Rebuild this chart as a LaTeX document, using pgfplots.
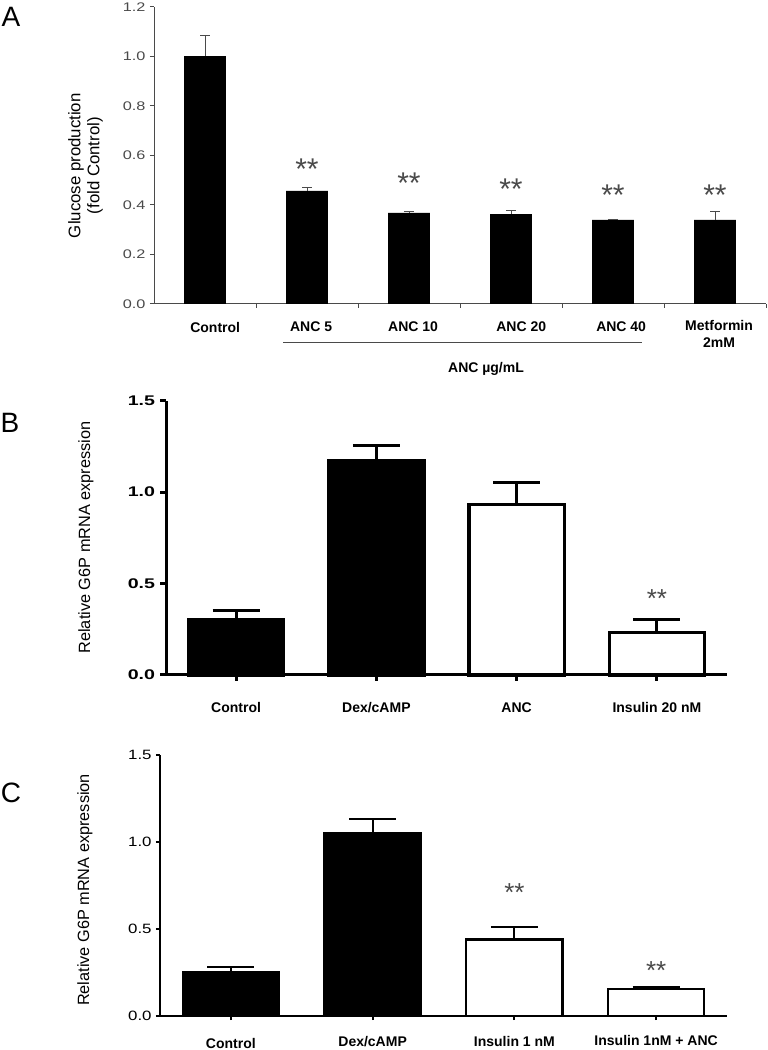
\documentclass[border=0pt]{standalone}
\usepackage{fontspec}
\setmainfont{Liberation Sans}
\usepackage{pgfplots}
\pgfplotsset{compat=1.18}
\definecolor{agray}{HTML}{4A4A4A}
\newcommand{\fs}[1]{\fontsize{#1}{#1}\selectfont}
\begin{document}
\begin{tikzpicture}
\path[use as bounding box] (0,0) rectangle (768pt,1050pt);

% ---------------- Panel A ----------------
\begin{axis}[
  at={(154pt,746pt)}, anchor=south west,
  scale only axis, width=612pt, height=297.3pt,
  xmin=-0.5, xmax=5.5, ymin=0, ymax=1.2,
  axis lines*=left, axis line style={agray, line width=1pt, -},
  clip=false,
  xtick={0.5,1.5,2.5,3.5,4.5,5.5}, xticklabels={},
  ytick={0,0.2,0.4,0.6,0.8,1.0,1.2},
  tick align=outside, major tick length=4pt,
  every tick/.style={agray, line width=1pt},
  yticklabel style={font=\fs{12.5}, text=agray, xscale=1.3},
  /pgf/number format/.cd, fixed, fixed zerofill, precision=1, assume math mode=true,
]
\addplot[ybar, bar width=0.41, bar shift=0pt, fill=black, draw=none,
  error bars/.cd, y dir=plus, y explicit,
  error bar style={agray, line width=1pt},
  error mark options={agray, line width=1pt, mark size=5pt, rotate=90}]
  coordinates {(0,1.0) +- (0,0.085) (1,0.457) +- (0,0.012) (2,0.368) +- (0,0.007)
               (3,0.363) +- (0,0.013) (4,0.34) +- (0,0.003) (5,0.34) +- (0,0.034)};
% significance marks
\node[font=\fs{30}, text=agray, anchor=base, yshift=-17pt] at (axis cs:1,0.57) {**};
\node[font=\fs{30}, text=agray, anchor=base, yshift=-17pt] at (axis cs:2,0.516) {**};
\node[font=\fs{30}, text=agray, anchor=base, yshift=-17pt] at (axis cs:3,0.49) {**};
\node[font=\fs{30}, text=agray, anchor=base, yshift=-17pt] at (axis cs:4,0.467) {**};
\node[font=\fs{30}, text=agray, anchor=base, yshift=-17pt] at (axis cs:5,0.467) {**};
% category labels
\node[font=\fs{14}\bfseries, anchor=base, yshift=-28.5pt] at (axis cs:0.1,0) {Control};
\node[font=\fs{14}\bfseries, anchor=base, yshift=-28pt] at (axis cs:1.04,0) {ANC 5};
\node[font=\fs{14}\bfseries, anchor=base, yshift=-28pt] at (axis cs:2.04,0) {ANC 10};
\node[font=\fs{14}\bfseries, anchor=base, yshift=-28pt] at (axis cs:3.1,0) {ANC 20};
\node[font=\fs{14}\bfseries, anchor=base, yshift=-28pt] at (axis cs:4.08,0) {ANC 40};
\node[font=\fs{14}\bfseries, anchor=base, yshift=-27pt] at (axis cs:5.04,0) {Metformin};
\node[font=\fs{14}\bfseries, anchor=base, yshift=-44pt] at (axis cs:5.04,0) {2mM};
\draw[agray, line width=1pt] (axis cs:0.765,-0.157) -- (axis cs:4.281,-0.157);
\node[font=\fs{14}\bfseries, anchor=base, yshift=-69pt] at (axis cs:2.755,0) {ANC µg/mL};
\end{axis}

% ---------------- Panel B ----------------
\begin{axis}[
  at={(166pt,375pt)}, anchor=south west,
  scale only axis, width=561pt, height=274.3pt,
  xmin=-0.5, xmax=3.5, ymin=0, ymax=1.5,
  axis lines*=left, axis line style={black, line width=3pt, -},
  clip=false,
  xtick={0,1,2,3}, xticklabels={},
  ytick={0,0.5,1.0,1.5},
  tick align=outside, major tick length=6pt,
  every tick/.style={black, line width=3pt},
  yticklabel style={font=\fs{14}\bfseries, xscale=1.4},
  /pgf/number format/.cd, fixed, fixed zerofill, precision=1, assume math mode=true,
]
\addplot[ybar, bar width=0.68, bar shift=0pt, fill=black, draw=black, line width=3.3pt,
  error bars/.cd, y dir=plus, y explicit,
  error bar style={black, line width=3pt},
  error mark options={black, line width=3pt, mark size=23.5pt, rotate=90}]
  coordinates {(0,0.305) +- (0,0.05) (1,1.17) +- (0,0.084)};
\addplot[ybar, bar width=0.68, bar shift=0pt, fill=white, draw=black, line width=3.3pt,
  error bars/.cd, y dir=plus, y explicit,
  error bar style={black, line width=3pt},
  error mark options={black, line width=3pt, mark size=23.5pt, rotate=90}]
  coordinates {(2,0.933) +- (0,0.117) (3,0.231) +- (0,0.07)};
\node[font=\fs{26}, text=agray, anchor=base, yshift=-14.8pt] at (axis cs:3,0.45) {**};
\node[font=\fs{14}\bfseries, anchor=base, yshift=-38pt] at (axis cs:0,0) {Control};
\node[font=\fs{14}\bfseries, anchor=base, yshift=-38pt] at (axis cs:1,0) {Dex/cAMP};
\node[font=\fs{14}\bfseries, anchor=base, yshift=-38pt] at (axis cs:2,0) {ANC};
\node[font=\fs{14}\bfseries, anchor=base, yshift=-38pt] at (axis cs:3,0) {Insulin 20 nM};
\end{axis}

% ---------------- Panel C ----------------
\begin{axis}[
  at={(160pt,34pt)}, anchor=south west,
  scale only axis, width=567pt, height=261pt,
  xmin=-0.5, xmax=3.5, ymin=0, ymax=1.5,
  axis lines*=left, axis line style={black, line width=2pt, -},
  clip=false,
  xtick={0,1,2,3}, xticklabels={},
  ytick={0,0.5,1.0,1.5},
  tick align=outside, major tick length=4pt,
  every tick/.style={black, line width=2pt},
  yticklabel style={font=\fs{13.5}, xscale=1.25},
  /pgf/number format/.cd, fixed, fixed zerofill, precision=1, assume math mode=true,
]
\addplot[ybar, bar width=0.68, bar shift=0pt, fill=black, draw=black, line width=2.2pt,
  error bars/.cd, y dir=plus, y explicit,
  error bar style={black, line width=2pt},
  error mark options={black, line width=2pt, mark size=23.5pt, rotate=90}]
  coordinates {(0,0.252) +- (0,0.028) (1,1.05) +- (0,0.08)};
\addplot[ybar, bar width=0.68, bar shift=0pt, fill=white, draw=black, line width=2.2pt,
  error bars/.cd, y dir=plus, y explicit,
  error bar style={black, line width=2pt},
  error mark options={black, line width=2pt, mark size=23.5pt, rotate=90}]
  coordinates {(2,0.44) +- (0,0.07) (3,0.157) +- (0,0.01)};
\node[font=\fs{26}, text=agray, anchor=base, yshift=-14.8pt] at (axis cs:2,0.743) {**};
\node[font=\fs{26}, text=agray, anchor=base, yshift=-14.8pt] at (axis cs:3,0.296) {**};
\node[font=\fs{14}\bfseries, anchor=base, yshift=-32pt] at (axis cs:0,0) {Control};
\node[font=\fs{14}\bfseries, anchor=base, yshift=-30pt] at (axis cs:1,0) {Dex/cAMP};
\node[font=\fs{14}\bfseries, anchor=base, yshift=-30pt] at (axis cs:2,0) {Insulin 1 nM};
\node[font=\fs{14}\bfseries, anchor=base, yshift=-29pt] at (axis cs:3,0) {Insulin 1nM + ANC};
\end{axis}

% ---------------- axis titles and panel letters ----------------
\node[font=\fs{16.8}, rotate=90] at (76pt,884.3pt) {Glucose production};
\node[font=\fs{16.8}, rotate=90] at (95pt,884.3pt) {(fold Control)};
\node[font=\fs{16.3}, rotate=90] at (86pt,512.5pt) {Relative G6P mRNA expression};
\node[font=\fs{16.3}, rotate=90] at (85pt,160pt) {Relative G6P mRNA expression};
\node[font=\fs{28}] at (11pt,1033pt) {A};
\node[font=\fs{28}] at (10pt,627pt) {B};
\node[font=\fs{28}] at (11pt,257pt) {C};
\end{tikzpicture}
\end{document}
